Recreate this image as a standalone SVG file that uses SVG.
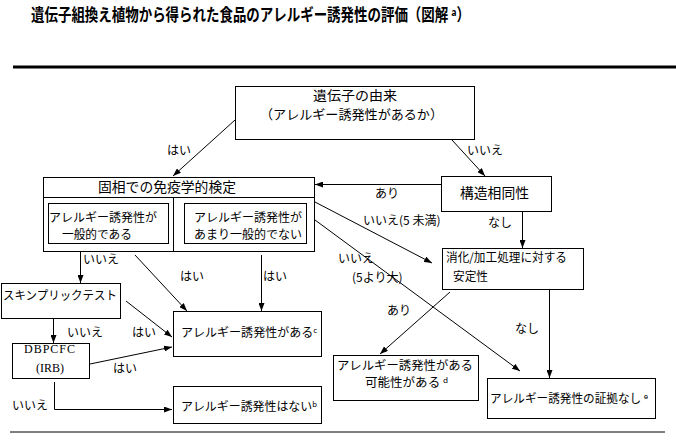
<svg xmlns="http://www.w3.org/2000/svg" width="676" height="440" viewBox="0 0 676 440">
<style>
text{font-family:"Noto Sans CJK JP","Noto Sans",sans-serif;font-size:12px;fill:#000}
.t14{font-size:14px}
.t13{font-size:13px}
.ttl{font-size:17px;font-weight:bold}
.serif{font-family:"Liberation Serif","Noto Sans CJK JP",serif;font-size:12px}
.box{fill:#fff;stroke:#000;stroke-width:1}
.con line,.con polyline{stroke:#000;stroke-width:1;fill:none;marker-end:url(#ah)}
</style>
<defs>
<marker id="ah" viewBox="0 0 8 6" refX="8" refY="3" markerWidth="8" markerHeight="6" markerUnits="userSpaceOnUse" orient="auto">
<path d="M0,0 L8,3 L0,6 z" fill="#000"/>
</marker>
</defs>
<rect width="676" height="440" fill="#fff"/>
<g id="title">
<text class="ttl" x="31" y="21" textLength="439" lengthAdjust="spacingAndGlyphs">遺伝子組換え植物から得られた食品のアレルギー誘発性の評価（図解 ᵃ）</text>
<line x1="13" y1="67" x2="676" y2="67" stroke="#000" stroke-width="3"/>
<line x1="10" y1="432" x2="665" y2="432" stroke="#000" stroke-width="1"/>
</g>
<g id="origin">
<rect class="box" x="235.5" y="86.5" width="239" height="53"/>
<text class="t13" x="313" y="100" textLength="84" lengthAdjust="spacingAndGlyphs">遺伝子の由来</text>
<text class="t13" x="260" y="119" textLength="183" lengthAdjust="spacingAndGlyphs">（アレルギー誘発性があるか）</text>
</g>
<g id="solidphase">
<rect class="box" x="43.5" y="177.5" width="271" height="74"/>
<line x1="43.5" y1="197.5" x2="314.5" y2="197.5" stroke="#000"/>
<line x1="173.5" y1="197.5" x2="173.5" y2="251.5" stroke="#000"/>
<text class="t14" x="98" y="192" textLength="138" lengthAdjust="spacingAndGlyphs">固相での免疫学的検定</text>
</g>
<g id="common">
<rect class="box" x="48.5" y="203.5" width="120" height="40"/>
<text x="49" y="222" textLength="108" lengthAdjust="spacingAndGlyphs">アレルギー誘発性が</text>
<text x="62" y="239" textLength="70" lengthAdjust="spacingAndGlyphs">一般的である</text>
</g>
<g id="uncommon">
<rect class="box" x="184.5" y="203.5" width="122" height="40"/>
<text x="194" y="222" textLength="108" lengthAdjust="spacingAndGlyphs">アレルギー誘発性が</text>
<text x="194" y="239" textLength="108" lengthAdjust="spacingAndGlyphs">あまり一般的でない</text>
</g>
<g id="homology">
<rect class="box" x="441.5" y="176.5" width="110" height="35"/>
<text class="t14" x="460" y="198" textLength="69" lengthAdjust="spacingAndGlyphs">構造相同性</text>
</g>
<g id="stability">
<rect class="box" x="442.5" y="248.5" width="141" height="41"/>
<text x="446" y="262" textLength="121" lengthAdjust="spacingAndGlyphs">消化/加工処理に対する</text>
<text x="453" y="281" textLength="35" lengthAdjust="spacingAndGlyphs">安定性</text>
</g>
<g id="skinprick">
<rect class="box" x="1.5" y="283.5" width="119" height="35"/>
<text x="3" y="300" textLength="114" lengthAdjust="spacingAndGlyphs">スキンプリックテスト</text>
</g>
<g id="dbpcfc">
<rect class="box" x="12.5" y="343.5" width="77" height="35"/>
<text class="serif" x="24" y="353" textLength="51" lengthAdjust="spacing">DBPCFC</text>
<text class="serif" x="36" y="372" textLength="28" lengthAdjust="spacing">(IRB)</text>
</g>
<g id="allergenic">
<rect class="box" x="173.5" y="311.5" width="148" height="45"/>
<text x="181" y="337" textLength="136" lengthAdjust="spacingAndGlyphs">アレルギー誘発性があるᶜ</text>
</g>
<g id="notallergenic">
<rect class="box" x="173.5" y="386.5" width="148" height="37"/>
<text x="181" y="411" textLength="136" lengthAdjust="spacingAndGlyphs">アレルギー誘発性はないᵇ</text>
</g>
<g id="probable">
<rect class="box" x="333.5" y="355.5" width="145" height="45"/>
<text x="337" y="370" textLength="136" lengthAdjust="spacingAndGlyphs">アレルギー誘発性がある</text>
<text x="365" y="387" textLength="83" lengthAdjust="spacingAndGlyphs">可能性がある ᵈ</text>
</g>
<g id="noevidence">
<rect class="box" x="487.5" y="378.5" width="168" height="40"/>
<text x="490" y="403" textLength="158" lengthAdjust="spacingAndGlyphs">アレルギー誘発性の証拠なし ᵉ</text>
</g>
<g id="connectors" class="con">
<line x1="235" y1="120" x2="173" y2="176"/>
<line x1="452" y1="140" x2="485" y2="176"/>
<line x1="441" y1="184.5" x2="315" y2="184.5"/>
<line x1="522.5" y1="212" x2="522.5" y2="248"/>
<line x1="315" y1="202" x2="432" y2="263"/>
<line x1="315" y1="220" x2="520" y2="371"/>
<line x1="450" y1="292" x2="380" y2="354"/>
<line x1="549.5" y1="290" x2="549.5" y2="378"/>
<line x1="80.5" y1="252" x2="80.5" y2="283"/>
<line x1="135" y1="255" x2="187" y2="311"/>
<line x1="261.5" y1="255" x2="261.5" y2="311"/>
<line x1="126" y1="301" x2="172" y2="337"/>
<line x1="53.5" y1="319" x2="53.5" y2="343"/>
<line x1="90" y1="364" x2="172" y2="347"/>
<polyline points="54.5,382 54.5,409.5 172,409.5"/>
</g>
<g id="labels">
<text x="167" y="155">はい</text>
<text x="467" y="155">いいえ</text>
<text x="375" y="198">あり</text>
<text x="488" y="227">なし</text>
<text x="363" y="225">いいえ(5 未満)</text>
<text x="338" y="263">いいえ</text>
<text x="352" y="282">(5より大)</text>
<text x="387" y="315">あり</text>
<text x="515" y="333">なし</text>
<text x="83" y="264">いいえ</text>
<text x="180" y="281">はい</text>
<text x="263" y="281">はい</text>
<text x="132" y="337">はい</text>
<text x="67" y="337">いいえ</text>
<text x="113" y="373">はい</text>
<text x="12" y="410">いいえ</text>
</g>
</svg>
